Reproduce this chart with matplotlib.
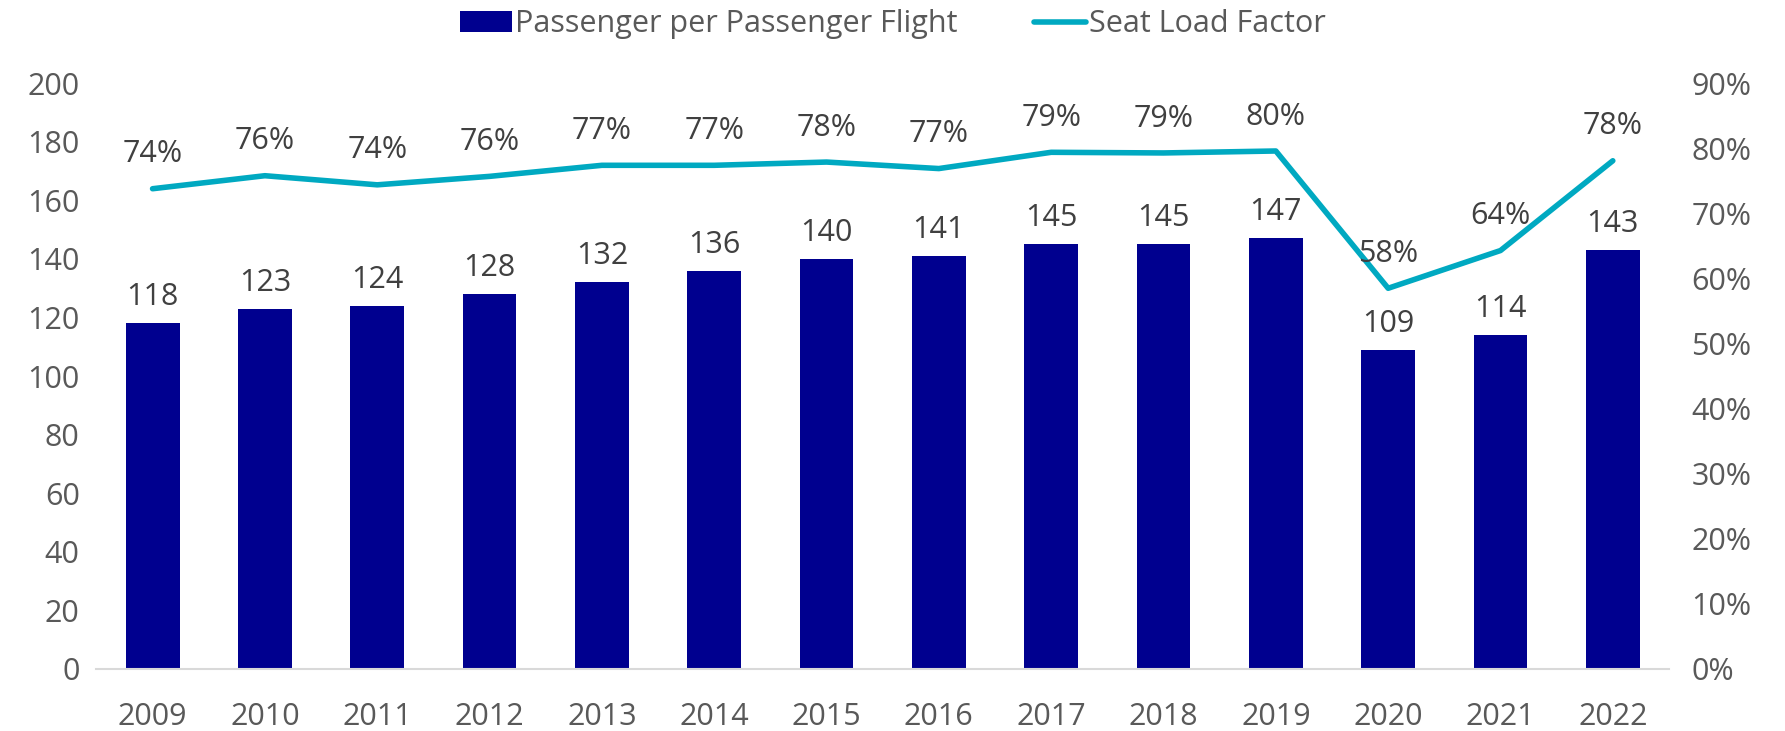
import matplotlib
matplotlib.use("Agg")
import matplotlib.pyplot as plt
import numpy as np

plt.rcParams['font.family'] = ['Open Sans', 'DejaVu Sans']

years = ['2009', '2010', '2011', '2012', '2013', '2014', '2015',
         '2016', '2017', '2018', '2019', '2020', '2021', '2022']
passengers = [118, 123, 124, 128, 132, 136, 140, 141, 145, 145, 147, 109, 114, 143]
load_factor = [0.738, 0.758, 0.744, 0.757, 0.774, 0.774, 0.779,
               0.769, 0.794, 0.793, 0.796, 0.585, 0.643, 0.781]

bar_color = '#00008F'
line_color = '#00A9C1'
text_color = '#595959'
fs = 22

fig = plt.figure(figsize=(17.85, 7.31), dpi=100)
ax = fig.add_axes([0.054, 0.085, 0.881, 0.801])
ax2 = ax.twinx()

x = np.arange(len(years))
bars = ax.bar(x, passengers, width=0.48, color=bar_color, label='Passenger per Passenger Flight', zorder=2)
line, = ax2.plot(x, load_factor, color=line_color, lw=4, solid_capstyle='round',
                 label='Seat Load Factor', zorder=3)

ax.set_ylim(0, 200)
ax.set_yticks(range(0, 201, 20))
ax2.set_ylim(0, 0.9)
ax2.set_yticks(np.arange(0, 0.91, 0.1))
ax2.set_yticklabels([f'{int(round(v * 100))}%' for v in np.arange(0, 0.91, 0.1)])
ax.set_xlim(-0.5, len(years) - 0.5)
ax.set_xticks(x)
ax.set_xticklabels(years)

for a in (ax, ax2):
    for s in a.spines.values():
        s.set_visible(False)
    a.tick_params(length=0, labelsize=fs, colors=text_color)
ax.spines['bottom'].set_visible(True)
ax.spines['bottom'].set_color('#D9D9D9')
ax.spines['bottom'].set_linewidth(1.5)
ax.tick_params(axis='x', pad=24)
ax.tick_params(axis='y', pad=12)
ax2.tick_params(axis='y', pad=16)

for xi, v in zip(x, passengers):
    ax.annotate(f'{v}', (xi, v), xytext=(0, 8), textcoords='offset points',
                ha='center', va='bottom', fontsize=fs, color='#404040')
for xi, v in zip(x, load_factor):
    ax2.annotate(f'{int(round(v * 100))}%', (xi, v), xytext=(0, 14), textcoords='offset points',
                 ha='center', va='bottom', fontsize=fs, color='#404040')

fig.legend(handles=[bars, line], loc='upper center', bbox_to_anchor=(0.5, 1.025), ncol=2,
           frameon=False, fontsize=fs, labelcolor=text_color, handlelength=1.7,
           handletextpad=0.1, columnspacing=2.5)

fig.savefig('out.png', dpi=100)
